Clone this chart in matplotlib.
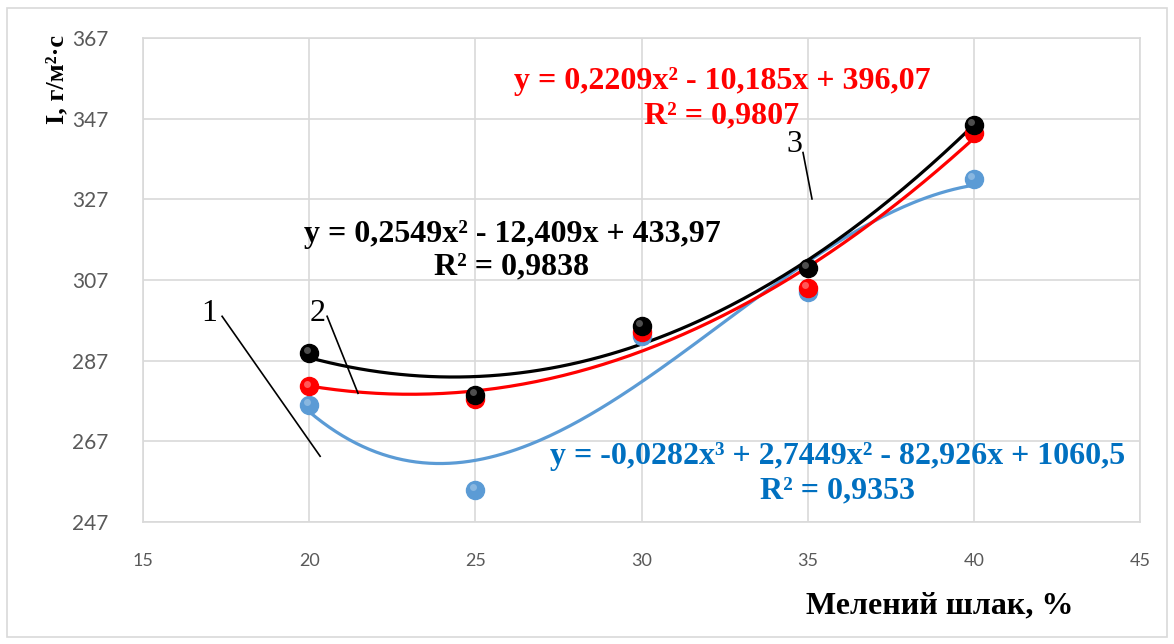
import numpy as np
import matplotlib.pyplot as plt
from matplotlib.patches import Rectangle

# measured points (Мелений шлак, %)
slag = [20, 25, 30, 35, 40]
blue_vals = [276.0, 255.0, 293.0, 304.0, 332.0]
red_vals = [280.6, 277.6, 294.0, 305.0, 343.5]
black_vals = [289.0, 278.6, 295.7, 310.0, 345.5]

# trendline coefficients as printed on the chart
blue_coef = [-0.0282, 2.7449, -82.926, 1060.5]
red_coef = [0.2209, -10.185, 396.07]
black_coef = [0.2549, -12.409, 433.97]

blue_eq = "y = -0,0282x³ + 2,7449x² - 82,926x + 1060,5"
blue_r2 = "R² = 0,9353"
red_eq = "y = 0,2209x² - 10,185x + 396,07"
red_r2 = "R² = 0,9807"
black_eq = "y = 0,2549x² - 12,409x + 433,97"
black_r2 = "R² = 0,9838"

xticks = [15, 20, 25, 30, 35, 40, 45]
yticks = [247, 267, 287, 307, 327, 347, 367]

serif = "Liberation Serif"
c_blue = "#5B9BD5"
c_blue_txt = "#0070C0"
c_red = "#FF0000"
c_black = "#000000"

fig = plt.figure(figsize=(11.74, 6.44), dpi=100)
ax = fig.add_axes([143 / 1174, 1 - 522 / 644, (1140 - 143) / 1174, (522 - 38) / 644])

xs = np.linspace(min(slag), max(slag), 200)
series = [
    (blue_vals, blue_coef, c_blue, "#9DC3E6"),
    (red_vals, red_coef, c_red, "#FF8080"),
    (black_vals, black_coef, c_black, "#707070"),
]
for i, (vals, coef, col, hi) in enumerate(series):
    ax.plot(xs, np.polyval(coef, xs), color=col, lw=2.3, zorder=3 + i)
for i, (vals, coef, col, hi) in enumerate(series):
    ax.plot(slag, vals, "o", ms=13, color=col, mec=col, zorder=6 + i)
    ax.plot(np.array(slag) - 0.08, np.array(vals) + 0.7, "o", ms=5,
            color=hi, mec="none", alpha=0.7, zorder=6 + i)

ax.set_xlim(15, 45)
ax.set_ylim(247, 367)
ax.set_xticks(xticks)
ax.set_yticks(yticks)
ax.grid(True, color="#D9D9D9", lw=1.2)
ax.set_axisbelow(True)
for s in ax.spines.values():
    s.set_color("#D9D9D9")
    s.set_linewidth(1.2)
ax.tick_params(length=0, colors="#595959")
ax.tick_params(axis="x", labelsize=13, pad=22)
ax.tick_params(axis="y", labelsize=15, pad=25)
for lab in ax.get_xticklabels() + ax.get_yticklabels():
    lab.set_fontfamily("Lato")

eq_kw = dict(ha="center", va="center", fontsize=23, fontweight="bold", family=serif, zorder=10)
ax.text(32.42, 356.1, red_eq, color=c_red, **eq_kw)
ax.text(32.42, 347.6, red_r2, color=c_red, **eq_kw)
ax.text(26.1, 318.4, black_eq, color=c_black, **eq_kw)
ax.text(26.1, 310.3, black_r2, color=c_black, **eq_kw)
ax.text(35.9, 263.3, blue_eq, color=c_blue_txt, **eq_kw)
ax.text(35.9, 254.8, blue_r2, color=c_blue_txt, **eq_kw)

# curve numbers with leader lines
num_kw = dict(fontsize=23, family=serif, ha="center", va="center", zorder=10)
ax.text(17.0, 298.8, "1", **num_kw)
ax.plot([17.38, 20.33], [298.0, 263.3], color="black", lw=1.2, zorder=10)
ax.text(20.25, 298.8, "2", **num_kw)
ax.plot([20.54, 21.47], [298.0, 278.9], color="black", lw=1.2, zorder=10)
ax.text(34.6, 340.5, "3", **num_kw)
ax.plot([34.86, 35.13], [338.6, 327.1], color="black", lw=1.2, zorder=10)

fig.text(940 / 1174, 1 - 606 / 644, "Мелений шлак, %", ha="center", va="center",
         fontsize=23, fontweight="bold", family=serif)
fig.text(57 / 1174, 1 - 80 / 644, "I, г/м²·с", ha="center", va="center", rotation=90,
         fontsize=19, fontweight="bold", family=serif)

fig.patches.append(Rectangle((7 / 1174, 1 - 637 / 644), 1160 / 1174, 629 / 644,
                             transform=fig.transFigure, fill=False, ec="#D9D9D9", lw=1.2))

fig.savefig("out.png", dpi=100)
